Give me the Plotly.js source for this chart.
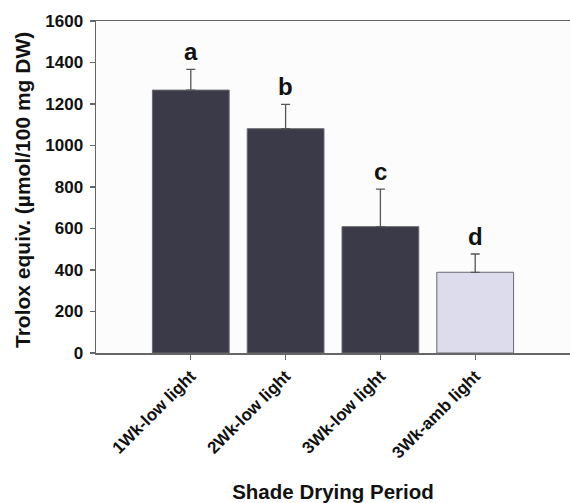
<!DOCTYPE html>
<html><head><meta charset="utf-8">
<script src="https://cdn.plot.ly/plotly-3.0.1.min.js"></script>
<style>html,body{margin:0;padding:0;background:#fff}#c{width:570px;height:503px}</style>
</head><body><div id="c"></div>
<script>
const categories = ["1Wk-low light", "2Wk-low light", "3Wk-low light", "3Wk-amb light"];
const values = [1267, 1081, 609, 389];
const errors = [100, 117, 181, 88];
const letters = ["a", "b", "c", "d"];
const barColors = ["#3a3a48", "#3a3a48", "#3a3a48", "#dcdcec"];
const yTicks = [0, 200, 400, 600, 800, 1000, 1200, 1400, 1600];
const yTitle = "Trolox equiv. (µmol/100 mg DW)";
const xTitle = "Shade Drying Period";

const font = "Liberation Sans, Arial, sans-serif";
const trace = {
  type: "bar", x: [0,1,2,3], y: values,
  width: 0.81,
  marker: {color: barColors, line: {color: "#6a6a70", width: 1}},
  error_y: {type: "data", array: errors, arrayminus: errors.map(()=>0), symmetric: false,
            color: "#555", thickness: 1.3, width: 4.5},
  hoverinfo: "skip"
};
const annotations = letters.map((t,i)=>({
  x: i, y: values[i]+errors[i], xref: "x", yref: "y", text: t, showarrow: false,
  yanchor: "bottom", yshift: 2, font: {family: font, size: 24, color: "#111", weight: "bold"}
}));
annotations.push({
  x: 0, y: 0.5, xref: "paper", yref: "paper", text: yTitle, showarrow: false,
  textangle: -90, xanchor: "center", yanchor: "middle", xshift: -74, yshift: -3,
  font: {family: font, size: 21, color: "#111", weight: "bold"}
});
const layout = {
  width: 570, height: 503,
  margin: {l: 95.5, r: 0, t: 20.5, b: 150},
  paper_bgcolor: "#ffffff", plot_bgcolor: "#fcfcfc",
  showlegend: false, bargap: 0.19,
  xaxis: {range: [-1, 4], tickmode: "array", tickvals: [0,1,2,3], ticktext: categories,
          tickangle: -45, ticks: "outside", ticklen: 5, tickcolor: "#666", tickwidth: 1.3,
          showline: true, linecolor: "#666", linewidth: 1.5, mirror: true,
          showgrid: false, zeroline: false, automargin: false,
          tickfont: {family: font, size: 17, color: "#111", weight: "bold"},
          title: {text: xTitle, standoff: 28,
                  font: {family: font, size: 20.5, color: "#111", weight: "bold"}}},
  yaxis: {range: [0, 1600], tickmode: "array", tickvals: yTicks,
          ticks: "outside", ticklen: 5, tickcolor: "#666", tickwidth: 1.3,
          ticklabelstandoff: 3,
          showline: true, linecolor: "#666", linewidth: 1.5,
          showgrid: false, zeroline: false, automargin: false,
          tickfont: {family: font, size: 17, color: "#111", weight: "bold"}},
  annotations: annotations
};
Plotly.newPlot("c", [trace], layout, {staticPlot: true, displayModeBar: false});
</script></body></html>
